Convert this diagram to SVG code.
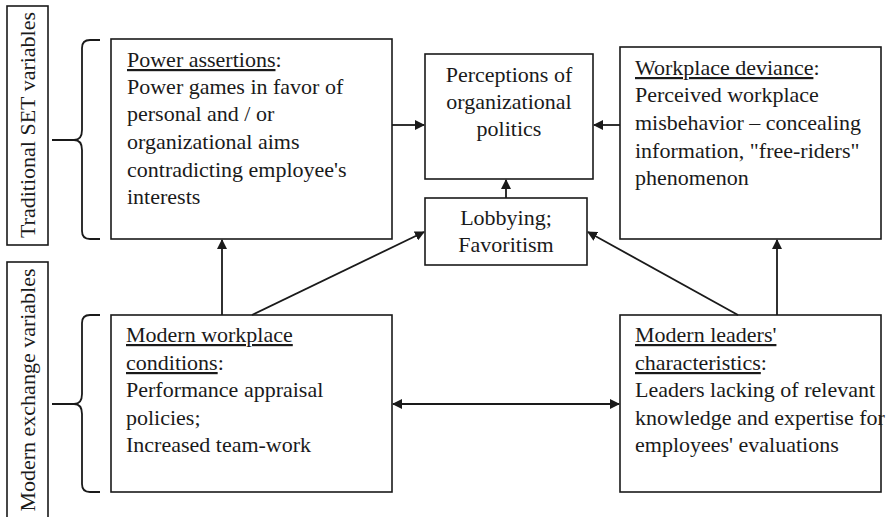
<svg xmlns="http://www.w3.org/2000/svg" width="893" height="517" viewBox="0 0 893 517">
<defs>
<marker id="ah" markerWidth="10" markerHeight="10" refX="9" refY="5" orient="auto" markerUnits="userSpaceOnUse">
<path d="M0,0 L10,5 L0,10 z" fill="#1a1a1a"/>
</marker>
<marker id="ahs" markerWidth="10" markerHeight="10" refX="1" refY="5" orient="auto" markerUnits="userSpaceOnUse">
<path d="M10,0 L0,5 L10,10 z" fill="#1a1a1a"/>
</marker>
<style>
.box{fill:#fff;stroke:#1a1a1a;stroke-width:1.6}
</style>
</defs>
<rect width="893" height="517" fill="#fff"/>

<g id="label-traditional">
<rect class="box" x="7" y="6" width="41" height="239"/>
<text font-family="Liberation Serif" font-size="22" fill="#1a1a1a" text-anchor="middle" transform="translate(35,125) rotate(-90)">Traditional SET variables</text>
</g>
<g id="label-modern">
<rect class="box" x="7" y="262" width="41" height="260"/>
<text font-family="Liberation Serif" font-size="22" fill="#1a1a1a" text-anchor="middle" transform="translate(35,390) rotate(-90)">Modern exchange variables</text>
</g>

<g id="braces" fill="none" stroke="#1a1a1a" stroke-width="1.8">
<path d="M100,40 L90,40 Q82,40 82,48 L82,130 Q82,140 74,140 L52,140 M74,140 Q82,140 82,150 L82,231 Q82,239 90,239 L100,239"/>
<path d="M100,315 L90,315 Q82,315 82,323 L82,394 Q82,404 74,404 L52,404 M74,404 Q82,404 82,414 L82,484 Q82,492 90,492 L100,492"/>
</g>

<g id="power-assertions">
<rect class="box" x="111" y="39" width="281" height="200"/>
<text font-family="Liberation Serif" font-size="22" fill="#1a1a1a" x="127" y="67"><tspan text-decoration="underline">Power assertions</tspan>:</text>
<text font-family="Liberation Serif" font-size="22" fill="#1a1a1a" x="127" y="94">Power games in favor of</text>
<text font-family="Liberation Serif" font-size="22" fill="#1a1a1a" x="127" y="121">personal and / or</text>
<text font-family="Liberation Serif" font-size="22" fill="#1a1a1a" x="127" y="149">organizational aims</text>
<text font-family="Liberation Serif" font-size="22" fill="#1a1a1a" x="127" y="177">contradicting employee's</text>
<text font-family="Liberation Serif" font-size="22" fill="#1a1a1a" x="127" y="204">interests</text>
</g>

<g id="perceptions">
<rect class="box" x="425" y="54" width="168" height="125"/>
<text font-family="Liberation Serif" font-size="22" fill="#1a1a1a" text-anchor="middle" x="509" y="82">Perceptions of</text>
<text font-family="Liberation Serif" font-size="22" fill="#1a1a1a" text-anchor="middle" x="509" y="109">organizational</text>
<text font-family="Liberation Serif" font-size="22" fill="#1a1a1a" text-anchor="middle" x="509" y="136">politics</text>
</g>

<g id="lobbying">
<rect class="box" x="425" y="198" width="162" height="67"/>
<text font-family="Liberation Serif" font-size="22" fill="#1a1a1a" text-anchor="middle" x="506" y="225">Lobbying;</text>
<text font-family="Liberation Serif" font-size="22" fill="#1a1a1a" text-anchor="middle" x="506" y="252">Favoritism</text>
</g>

<g id="workplace-deviance">
<rect class="box" x="620" y="47" width="261" height="192"/>
<text font-family="Liberation Serif" font-size="22" fill="#1a1a1a" x="635" y="75"><tspan text-decoration="underline">Workplace deviance</tspan>:</text>
<text font-family="Liberation Serif" font-size="22" fill="#1a1a1a" x="635" y="102">Perceived workplace</text>
<text font-family="Liberation Serif" font-size="22" fill="#1a1a1a" x="635" y="130">misbehavior &#8211; concealing</text>
<text font-family="Liberation Serif" font-size="22" fill="#1a1a1a" x="635" y="158">information, "free-riders"</text>
<text font-family="Liberation Serif" font-size="22" fill="#1a1a1a" x="635" y="185">phenomenon</text>
</g>

<g id="modern-workplace">
<rect class="box" x="111" y="315" width="281" height="177"/>
<text font-family="Liberation Serif" font-size="22" fill="#1a1a1a" x="126" y="342"><tspan text-decoration="underline">Modern workplace</tspan></text>
<text font-family="Liberation Serif" font-size="22" fill="#1a1a1a" x="126" y="370"><tspan text-decoration="underline">conditions</tspan>:</text>
<text font-family="Liberation Serif" font-size="22" fill="#1a1a1a" x="126" y="397">Performance appraisal</text>
<text font-family="Liberation Serif" font-size="22" fill="#1a1a1a" x="126" y="425">policies;</text>
<text font-family="Liberation Serif" font-size="22" fill="#1a1a1a" x="126" y="452">Increased team-work</text>
</g>

<g id="modern-leaders">
<rect class="box" x="620" y="315" width="261" height="177"/>
<text font-family="Liberation Serif" font-size="22" fill="#1a1a1a" x="635" y="342"><tspan text-decoration="underline">Modern leaders'</tspan></text>
<text font-family="Liberation Serif" font-size="22" fill="#1a1a1a" x="635" y="370"><tspan text-decoration="underline">characteristics</tspan>:</text>
<text font-family="Liberation Serif" font-size="22" fill="#1a1a1a" x="635" y="397">Leaders lacking of relevant</text>
<text font-family="Liberation Serif" font-size="22" fill="#1a1a1a" x="635" y="425">knowledge and expertise for</text>
<text font-family="Liberation Serif" font-size="22" fill="#1a1a1a" x="635" y="452">employees' evaluations</text>
</g>

<g id="connectors" fill="none" stroke="#1a1a1a" stroke-width="1.8">
<line x1="392" y1="125" x2="424" y2="125" marker-end="url(#ah)"/>
<line x1="620" y1="125" x2="594" y2="125" marker-end="url(#ah)"/>
<line x1="506" y1="198" x2="506" y2="180" marker-end="url(#ah)"/>
<line x1="222" y1="315" x2="222" y2="240" marker-end="url(#ah)"/>
<line x1="252" y1="315" x2="424" y2="232" marker-end="url(#ah)"/>
<line x1="738" y1="315" x2="588" y2="232" marker-end="url(#ah)"/>
<line x1="777" y1="315" x2="777" y2="240" marker-end="url(#ah)"/>
<line x1="393" y1="404" x2="619" y2="404" marker-start="url(#ahs)" marker-end="url(#ah)"/>
</g>
</svg>
